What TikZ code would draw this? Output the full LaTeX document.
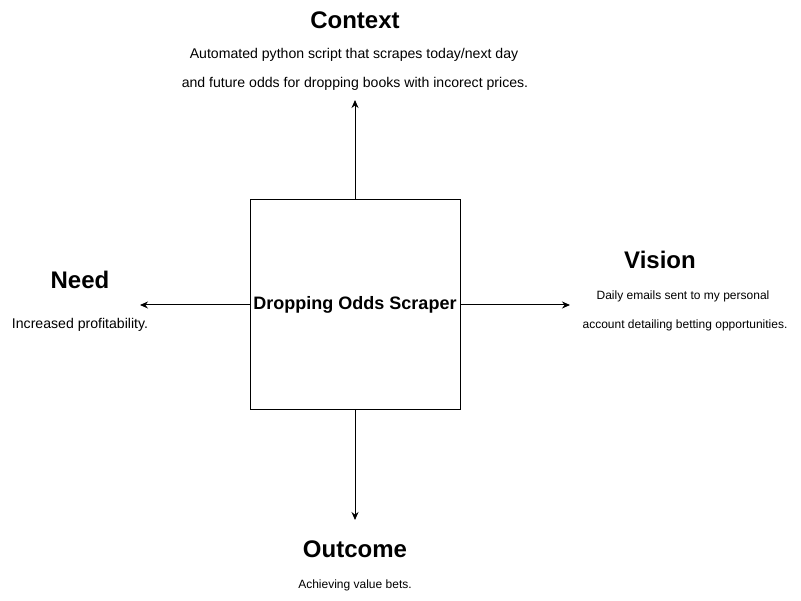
\documentclass[tikz,border=0pt]{standalone}
\usepackage{fontspec}
\setmainfont{Liberation Sans}
\usetikzlibrary{arrows.meta}
\begin{document}
\begin{tikzpicture}[x=1pt,y=-1pt,
  title/.style={font=\bfseries\fontsize{24}{28}\selectfont, inner sep=0pt, anchor=center},
  ctxt/.style={font=\fontsize{14.1}{17}\selectfont, inner sep=0pt, anchor=center},
  ntxt/.style={font=\fontsize{14.1}{17}\selectfont, inner sep=0pt, anchor=center},
  stxt/.style={font=\fontsize{12}{14}\selectfont, inner sep=0pt, anchor=center},
  arr/.style={draw=black, line width=1pt, -{Stealth[length=8pt,width=7pt]}}]
\useasboundingbox (0,0) rectangle (801,601);
\fill[white] (0,0) rectangle (801,601);
\node[draw=black, line width=1pt, minimum width=210pt, minimum height=210pt, inner sep=0pt,
  font=\bfseries\fontsize{18}{21}\selectfont] (box) at (355,305) {Dropping Odds Scraper};
\coordinate (ctxA) at (355,100);
\coordinate (needA) at (140,305);
\coordinate (visA) at (570,305);
\coordinate (outA) at (355,520);
\draw[arr] (box.north) -- (ctxA);
\draw[arr] (box.west) -- (needA);
\draw[arr] (box.east) -- (visA);
\draw[arr] (box.south) -- (outA);
\node[title] (ctx) at (355,20) {Context};
\node[ctxt] (ctx1) at (354,55) {Automated python script that scrapes today/next day};
\node[ctxt] (ctx2) at (355,84) {and future odds for dropping books with incorect prices.};
\node[title] (need) at (80,280) {Need};
\node[ntxt] (need1) at (80,325) {Increased profitability.};
\node[title] (vis) at (660,260) {Vision};
\node[stxt] (vis1) at (683,296) {Daily emails sent to my personal};
\node[stxt] (vis2) at (685,325) {account detailing betting opportunities.};
\node[title] (out) at (355,549) {Outcome};
\node[stxt] (out1) at (355,585) {Achieving value bets.};
\end{tikzpicture}
\end{document}
